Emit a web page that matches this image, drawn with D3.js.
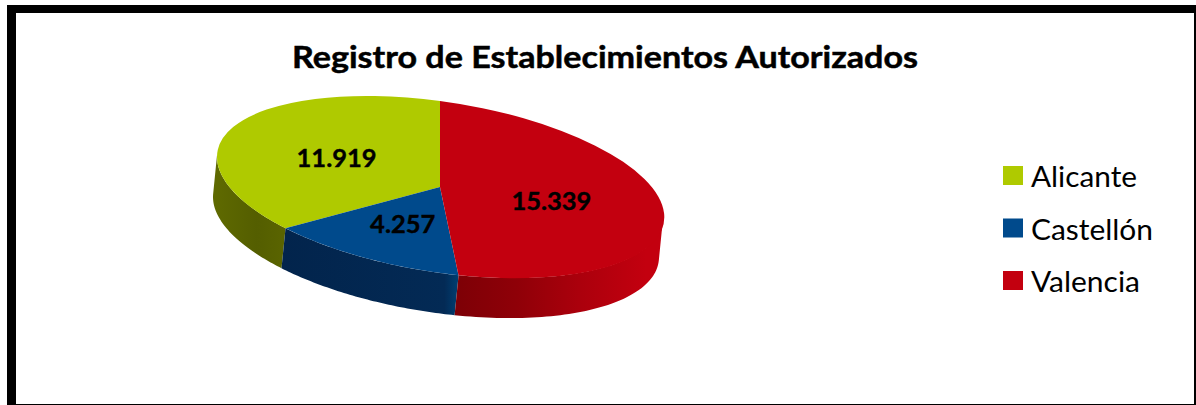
<!DOCTYPE html>
<html>
<head>
<meta charset="utf-8">
<style>
html, body { margin: 0; padding: 0; background: #fff; overflow: hidden; }
text { font-family: Lato, "Open Sans", sans-serif; fill: #000; }
</style>
<script src="https://cdn.jsdelivr.net/npm/d3@7"></script>
</head>
<body>
<div id="chart"></div>
<script>
const title = "Registro de Establecimientos Autorizados";
const categories = ["Alicante", "Castellón", "Valencia"];
const values = [11919, 4257, 15339];
const valueLabels = ["11.919", "4.257", "15.339"];
const topColors = ["#afca00", "#004a8c", "#c3000f"];
// [offset, colour] along the visible wall of each slice
const wallStops = [
    [[0, "#5f6a00"], [0.6, "#545e00"], [1, "#5a6400"]],
    [[0, "#02244c"], [0.92, "#032a55"], [1, "#003f72"]],
    [[0, "#7d0006"], [0.3, "#8f0008"], [0.6, "#ab000c"], [0.92, "#c3000f"]]
];

const width = 1196, height = 405;

const svg = d3.select("#chart").append("svg")
    .attr("width", width)
    .attr("height", height)
    .style("display", "block");

// frame
svg.append("rect").attr("x", 7).attr("y", 5).attr("width", width - 7).attr("height", height - 5).attr("fill", "#000");
svg.append("rect").attr("x", 16).attr("y", 13).attr("width", 1178).attr("height", 391).attr("fill", "#fff");

svg.append("text")
    .attr("x", 605)
    .attr("y", 68)
    .attr("text-anchor", "middle")
    .attr("font-size", 31)
    .attr("font-weight", 700)
    .attr("stroke", "#000")
    .attr("stroke-width", 0.5)
    .attr("textLength", 626)
    .attr("lengthAdjust", "spacingAndGlyphs")
    .text(title);

// tilted pie: unit circle pushed through an affine map
const cx = 440, cy = 187;
const m = { a: 223, b: 30, c: 0, d: 86 };
const depth = { x: -4, y: 40 };

const project = (angle, r) => {
    const ux = Math.sin(angle) * r, uy = -Math.cos(angle) * r;
    return [cx + m.a * ux + m.c * uy, cy + m.b * ux + m.d * uy];
};

const slices = d3.pie().sort(null).startAngle(0).endAngle(-2 * Math.PI)(values);

const defs = svg.append("defs");
slices.forEach((s, i) => {
    const g = defs.append("linearGradient")
        .attr("id", "wall" + i)
        .attr("x1", 0).attr("x2", 1).attr("y1", 0).attr("y2", 0);
    wallStops[i].forEach(st => {
        g.append("stop").attr("offset", st[0]).attr("stop-color", st[1]);
    });
});

// the front of the pie runs between the two points where the rim is parallel to the depth
const tangent = Math.atan((m.a * depth.y - m.b * depth.x) / (m.d * depth.x));
const frontHi = tangent;                 // left side, about -88 degrees
const frontLo = tangent - Math.PI;       // right side, about -268 degrees

const line = d3.line();

const wallPath = s => {
    const from = Math.min(s.startAngle, frontHi);
    const to = Math.max(s.endAngle, frontLo);
    const steps = d3.range(0, 61).map(k => from + (to - from) * k / 60);
    const upper = steps.map(a => project(a, 1));
    const lower = upper.map(p => [p[0] + depth.x, p[1] + depth.y]).reverse();
    return line(upper.concat(lower)) + "Z";
};

svg.append("g").selectAll("path")
    .data(slices)
    .join("path")
    .attr("d", wallPath)
    .attr("fill", (s, i) => "url(#wall" + i + ")");

const arc = d3.arc().innerRadius(0).outerRadius(1);
svg.append("g")
    .attr("transform", `matrix(${m.a},${m.b},${m.c},${m.d},${cx},${cy})`)
    .selectAll("path")
    .data(slices)
    .join("path")
    .attr("d", s => arc({ startAngle: s.endAngle, endAngle: s.startAngle }))
    .attr("fill", (s, i) => topColors[i]);

svg.append("g").selectAll("text")
    .data(slices)
    .join("text")
    .attr("x", s => project((s.startAngle + s.endAngle) / 2, 0.5)[0])
    .attr("y", s => project((s.startAngle + s.endAngle) / 2, 0.5)[1] + 10)
    .attr("text-anchor", "middle")
    .attr("font-size", 25.5)
    .attr("font-weight", 700)
    .attr("stroke", "#000")
    .attr("stroke-width", 0.4)
    .text((s, i) => valueLabels[i]);

// legend
const legendY = d3.scalePoint().domain(categories).range([166, 271]);
const legendWidths = [106, 122, 109];
const legend = svg.append("g").selectAll("g")
    .data(categories)
    .join("g")
    .attr("transform", d => `translate(1003,${legendY(d)})`);
legend.append("rect")
    .attr("width", 20)
    .attr("height", 19)
    .attr("fill", (d, i) => topColors[i]);
legend.append("text")
    .attr("x", 28)
    .attr("y", 21)
    .attr("font-size", 28)
    .attr("textLength", (d, i) => legendWidths[i])
    .attr("lengthAdjust", "spacingAndGlyphs")
    .text(d => d);
</script>
</body>
</html>
